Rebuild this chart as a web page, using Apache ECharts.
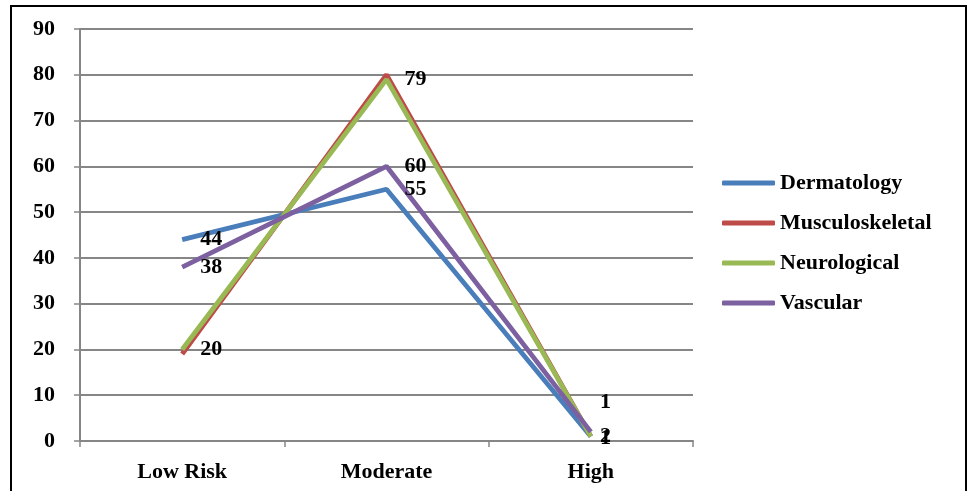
<!DOCTYPE html>
<html>
<head>
<meta charset="utf-8">
<script src="https://cdn.jsdelivr.net/npm/echarts@6/dist/echarts.min.js"></script>
<style>
  html, body { margin: 0; padding: 0; background: #fff; }
  #frame { position: absolute; left: 10px; top: 5px; width: 957px; height: 500px; border: 2px solid #000; box-sizing: border-box; }
  #chart { position: absolute; left: 0; top: 0; width: 971px; height: 491px; }
</style>
</head>
<body>
<div id="frame"></div>
<div id="chart"></div>
<script>
// Risk levels on the category axis
const categories = ['Low Risk', 'Moderate', 'High'];

// Percentages per specialty
const dermatology     = [44, 55, 1];
const musculoskeletal = [19, 80, 1];
const neurological    = [20, 79, 1];
const vascular        = [38, 60, 2];

// Y axis range
const yMin = 0, yMax = 90, yStep = 10;

const serif = '"Liberation Serif", "Times New Roman", serif';
const fontSize = 22;
const labelStyle = { show: true, position: 'right', distance: 18, color: '#000',
  fontFamily: serif, fontWeight: 'bold', fontSize: fontSize };

// Which points carry a value label, and any nudge for crowded ones
function withLabels(values, shown, offsets) {
  return values.map((v, i) => {
    if (!shown[i]) return { value: v, label: { show: false } };
    const lab = Object.assign({}, labelStyle);
    if (offsets && offsets[i]) { lab.offset = offsets[i]; lab.distance = 9; }
    return { value: v, label: lab };
  });
}

const lineSeries = (name, data) => ({
  name, type: 'line', symbol: 'circle', symbolSize: 0.1, showSymbol: true,
  lineStyle: { width: 4.8 }, emphasis: { disabled: true }, data
});

const chart = echarts.init(document.getElementById('chart'));
chart.setOption({
  animation: false,
  color: ['#4a7ebb', '#be4b48', '#98b954', '#7d60a0'],
  grid: { left: 80, right: 278, top: 29, bottom: 50 },
  legend: {
    orient: 'vertical', left: 717, top: 167,
    icon: 'roundRect', itemWidth: 53, itemHeight: 5, itemGap: 18,
    textStyle: { fontFamily: serif, fontWeight: 'bold', fontSize: fontSize, color: '#000' },
    data: ['Dermatology', 'Musculoskeletal', 'Neurological', 'Vascular']
  },
  xAxis: {
    type: 'category', data: categories, boundaryGap: true,
    axisLine: { lineStyle: { color: '#868686', width: 2 } },
    axisTick: { show: true, length: 6, lineStyle: { color: '#868686', width: 1.5 } },
    axisLabel: { color: '#000', fontFamily: serif, fontWeight: 'bold', fontSize: fontSize, margin: 20 }
  },
  yAxis: {
    type: 'value', min: yMin, max: yMax, interval: yStep,
    axisLine: { show: true, lineStyle: { color: '#868686', width: 2 } },
    axisTick: { show: true, length: 6, lineStyle: { color: '#868686', width: 1.5 } },
    axisLabel: { color: '#000', fontFamily: serif, fontWeight: 'bold', fontSize: fontSize, margin: 25 },
    splitLine: { lineStyle: { color: '#868686', width: 2 } }
  },
  series: [
    lineSeries('Dermatology', withLabels(dermatology, [true, true, true], [null, null, [0, 2]])),
    lineSeries('Musculoskeletal', withLabels(musculoskeletal, [false, false, false])),
    lineSeries('Neurological', withLabels(neurological, [true, true, true], [null, null, [0, -34]])),
    lineSeries('Vascular', withLabels(vascular, [true, true, true], [null, null, [0, 4]]))
  ]
});
</script>
</body>
</html>
